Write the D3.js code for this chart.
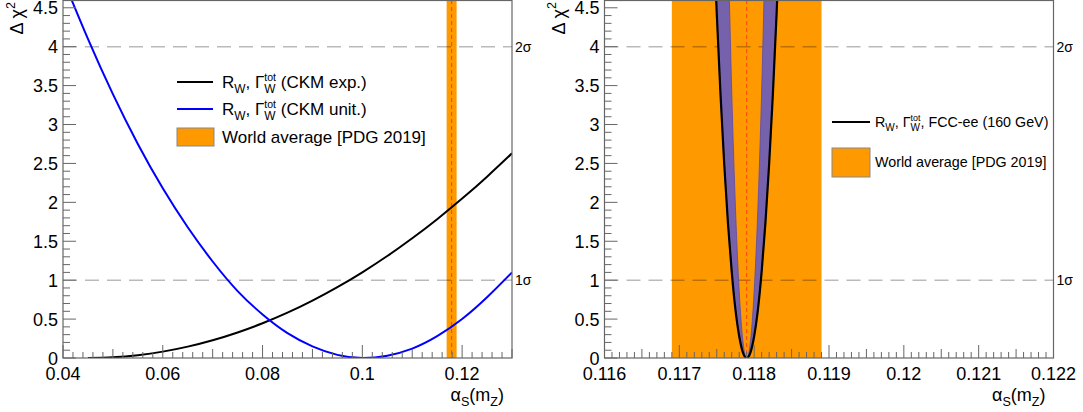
<!DOCTYPE html>
<html>
<head>
<meta charset="utf-8">
<script src="https://cdn.jsdelivr.net/npm/d3@7"></script>
<style>
body { margin: 0; background: #fff; }
text { font-family: "Liberation Sans", Arial, Helvetica, sans-serif; fill: #000; }
</style>
</head>
<body>
<script>
var W = 1083, H = 412;

// left panel: R_W, Gamma_W scans
var leftExpAlpha = [0.045, 0.05, 0.055, 0.06, 0.065, 0.07, 0.075, 0.08, 0.085, 0.09,
                    0.095, 0.1, 0.105, 0.11, 0.115, 0.12, 0.125, 0.13];
var ckmExp = [0.000, 0.009, 0.036, 0.082, 0.146, 0.228, 0.328, 0.446, 0.582, 0.737,
              0.910, 1.101, 1.310, 1.538, 1.784, 2.048, 2.330, 2.630];
var leftUnitAlpha = [0.04, 0.045, 0.05, 0.055, 0.06, 0.065, 0.07, 0.075, 0.08, 0.085,
                     0.09, 0.095, 0.1, 0.105, 0.11, 0.115, 0.12, 0.125, 0.13];
var ckmUnit = [4.87, 4.10, 3.39, 2.75, 2.18, 1.68, 1.24, 0.86, 0.56, 0.32,
               0.15, 0.04, 0.00, 0.03, 0.12, 0.28, 0.50, 0.78, 1.10];

// right panel: FCC-ee projection (outer edge and inner edge of the band)
var fccOuterAlpha = [0.11745, 0.1175, 0.11755, 0.1176, 0.11765, 0.1177, 0.11775, 0.1178, 0.11785, 0.1179,
                     0.11795, 0.118, 0.11805, 0.1181, 0.11815, 0.1182, 0.11825, 0.1183, 0.11835];
var fccOuter = [5.61, 4.43, 3.39, 2.49, 1.73, 1.11, 0.62, 0.28, 0.07, 0.00,
                0.07, 0.28, 0.62, 1.11, 1.73, 2.49, 3.39, 4.43, 5.61];
var fccInnerAlpha = [0.11765, 0.1177, 0.11775, 0.1178, 0.11785, 0.1179,
                     0.11795, 0.118, 0.11805, 0.1181, 0.11815];
var fccInner = [5.36, 3.43, 1.93, 0.86, 0.21, 0.00, 0.21, 0.86, 1.93, 3.43, 5.36];

// world average
var pdgCentral = 0.1179;
var pdgBand = [0.1169, 0.1189];

var sigmaLevels = [1, 4];
var sigmaLabels = ["1σ", "2σ"];

var yTickLabels = [0, 0.5, 1, 1.5, 2, 2.5, 3, 3.5, 4, 4.5];
var leftXTicks = [0.04, 0.06, 0.08, 0.1, 0.12];
var rightXTicks = [0.116, 0.117, 0.118, 0.119, 0.12, 0.121, 0.122];

var orange = "#ff9900";

var svg = d3.select("body").append("svg").attr("width", W).attr("height", H);
svg.append("rect").attr("width", W).attr("height", H).attr("fill", "#fff");

// draws text with sub/superscripts, returns width
function rich(g, x, y, parts, size) {
  var cx = x;
  parts.forEach(function(p) {
    if (p.stack) {
      var a = g.append("text").attr("x", cx).attr("y", y - size * 0.42)
        .attr("font-size", size * 0.62).text(p.stack[0]);
      var b = g.append("text").attr("x", cx).attr("y", y + size * 0.3)
        .attr("font-size", size * 0.7).text(p.stack[1]);
      cx += Math.max(a.node().getComputedTextLength(), b.node().getComputedTextLength());
    } else {
      var fs = size, dy = 0;
      if (p.sub) { fs = size * 0.7; dy = size * 0.3; }
      if (p.sup) { fs = size * 0.7; dy = -size * 0.45; }
      var t = g.append("text").attr("x", cx).attr("y", y + dy)
        .attr("font-size", fs).attr("xml:space", "preserve").text(p.t);
      cx += t.node().getComputedTextLength();
    }
  });
  return cx - x;
}

var y = d3.scaleLinear().domain([0, 4.6]).range([358, 0]);

function drawPanel(cfg, idx) {
  var x = d3.scaleLinear().domain(cfg.domain).range([cfg.x0, cfg.x1]);
  var g = svg.append("g");
  var clipId = "clip" + idx;
  svg.append("clipPath").attr("id", clipId).append("rect")
    .attr("x", cfg.x0).attr("y", 0).attr("width", cfg.x1 - cfg.x0).attr("height", 358);
  var plot = g.append("g").attr("clip-path", "url(#" + clipId + ")");

  // world average band
  plot.append("rect")
    .attr("x", x(pdgBand[0])).attr("y", 0)
    .attr("width", x(pdgBand[1]) - x(pdgBand[0])).attr("height", 358)
    .attr("fill", orange);

  // 1 and 2 sigma lines
  plot.selectAll("line.sig").data(sigmaLevels).enter().append("line")
    .attr("x1", cfg.x0).attr("x2", cfg.x1)
    .attr("y1", function(d) { return y(d); }).attr("y2", function(d) { return y(d); })
    .attr("stroke", "#000").attr("stroke-opacity", 0.27)
    .attr("stroke-width", 1.5).attr("stroke-dasharray", "14,8");

  // central value
  plot.append("line")
    .attr("x1", x(pdgCentral)).attr("x2", x(pdgCentral))
    .attr("y1", 0).attr("y2", 358)
    .attr("stroke", "#ff4010").attr("stroke-width", 1).attr("stroke-dasharray", "4,3");

  var line = d3.line().curve(d3.curveNatural)
    .x(function(d) { return x(d[0]); }).y(function(d) { return y(d[1]); });

  cfg.draw(plot, x, line);

  // frame
  g.append("rect").attr("x", cfg.x0).attr("y", 0.5)
    .attr("width", cfg.x1 - cfg.x0).attr("height", 357.5)
    .attr("fill", "none").attr("stroke", "#666").attr("stroke-width", 1.2);

  // y ticks
  var yMinor = d3.range(0, 46).map(function(i) { return i / 10; });
  g.selectAll("line.ym").data(yMinor).enter().append("line")
    .attr("x1", cfg.x0).attr("y1", function(d) { return y(d); })
    .attr("x2", function(d, i) { return cfg.x0 + (i % 5 === 0 ? 13 : 7); })
    .attr("y2", function(d) { return y(d); })
    .attr("stroke", "#666").attr("stroke-width", 1);
  g.selectAll("text.yl").data(yTickLabels).enter().append("text")
    .attr("x", cfg.x0 - 5).attr("y", function(d) { return y(d) + 6.5; })
    .attr("text-anchor", "end").attr("font-size", 18)
    .text(function(d) { return String(d); });

  // x ticks
  var nMinor = Math.round((cfg.domain[1] - cfg.domain[0]) / cfg.minorStep);
  var xMinor = d3.range(0, nMinor + 1).map(function(i) { return cfg.domain[0] + i * cfg.minorStep; });
  g.selectAll("line.xm").data(xMinor).enter().append("line")
    .attr("x1", function(d) { return x(d); }).attr("x2", function(d) { return x(d); })
    .attr("y1", 358)
    .attr("y2", function(d, i) { return 358 - (i % 10 === 0 ? 13 : (i % 5 === 0 ? 9 : 6)); })
    .attr("stroke", "#666").attr("stroke-width", 1);
  g.selectAll("text.xl").data(cfg.ticks).enter().append("text")
    .attr("x", function(d) { return x(d); }).attr("y", 380)
    .attr("text-anchor", "middle").attr("font-size", 18)
    .text(function(d) { return String(+d.toFixed(4)); });

  // sigma labels
  g.selectAll("text.sl").data(sigmaLevels).enter().append("text")
    .attr("x", cfg.x1 + 3).attr("y", function(d) { return y(d) + 5; })
    .attr("font-size", 14)
    .text(function(d, i) { return sigmaLabels[i]; });

  // x title, right aligned near frame end
  var xt = g.append("g");
  var wx = rich(xt, 0, 401, [{t: "α"}, {t: "S", sub: true}, {t: "(m"}, {t: "Z", sub: true}, {t: ")"}], 18);
  xt.attr("transform", "translate(" + (cfg.x1 - 8 - wx) + ",0)");

  // y title, rotated, top aligned
  var yt = g.append("g");
  var wy = rich(yt, 0, 0, [{t: "Δ χ"}, {t: "2", sup: true}], 18);
  yt.attr("transform", "translate(" + (cfg.x0 - 40) + "," + (wy + 2) + ") rotate(-90)");

  cfg.legend(g);
}

drawPanel({
  x0: 63, x1: 512, domain: [0.04, 0.13], ticks: leftXTicks, minorStep: 0.002,
  draw: function(plot, x, line) {
    plot.append("path").attr("d", line(d3.zip(leftExpAlpha, ckmExp)))
      .attr("fill", "none").attr("stroke", "#000").attr("stroke-width", 2);
    plot.append("path").attr("d", line(d3.zip(leftUnitAlpha, ckmUnit)))
      .attr("fill", "none").attr("stroke", "#0000ff").attr("stroke-width", 2);
  },
  legend: function(g) {
    var rows = [
      {c: "#000", parts: [{t: "R"}, {t: "W", sub: true}, {t: ", Γ"}, {stack: ["tot", "W"]}, {t: " (CKM exp.)"}]},
      {c: "#0000ff", parts: [{t: "R"}, {t: "W", sub: true}, {t: ", Γ"}, {stack: ["tot", "W"]}, {t: " (CKM unit.)"}]}
    ];
    rows.forEach(function(r, i) {
      var cy = 82 + i * 27;
      g.append("line").attr("x1", 177).attr("x2", 213).attr("y1", cy).attr("y2", cy)
        .attr("stroke", r.c).attr("stroke-width", 2);
      rich(g, 222, cy + 6, r.parts, 17);
    });
    g.append("rect").attr("x", 177).attr("y", 128).attr("width", 37).attr("height", 18)
      .attr("fill", orange).attr("stroke", "#888").attr("stroke-width", 1);
    rich(g, 222, 143, [{t: "World average [PDG 2019]"}], 17);
  }
}, 0);

drawPanel({
  x0: 604.5, x1: 1053.5, domain: [0.116, 0.122], ticks: rightXTicks, minorStep: 0.0001,
  draw: function(plot, x, line) {
    var outer = d3.zip(fccOuterAlpha, fccOuter);
    var inner = d3.zip(fccInnerAlpha, fccInner).reverse();
    var bandPath = line(outer) + "L" + line(inner).slice(1) + "Z";
    plot.append("path").attr("d", bandPath)
      .attr("fill", "#7662ac").attr("stroke", "#5a4aa8").attr("stroke-width", 0.8);
    plot.append("path").attr("d", line(outer))
      .attr("fill", "none").attr("stroke", "#000").attr("stroke-width", 2.2);
  },
  legend: function(g) {
    g.append("line").attr("x1", 832).attr("x2", 870).attr("y1", 122).attr("y2", 122)
      .attr("stroke", "#000").attr("stroke-width", 2);
    rich(g, 875, 127, [{t: "R"}, {t: "W", sub: true}, {t: ", Γ"}, {stack: ["tot", "W"]}, {t: ", FCC-ee (160 GeV)"}], 14.3);
    g.append("rect").attr("x", 832).attr("y", 148).attr("width", 38).attr("height", 29)
      .attr("fill", orange).attr("stroke", "#888").attr("stroke-width", 1);
    rich(g, 875, 167, [{t: "World average [PDG 2019]"}], 14.3);
  }
}, 1);
</script>
</body>
</html>
